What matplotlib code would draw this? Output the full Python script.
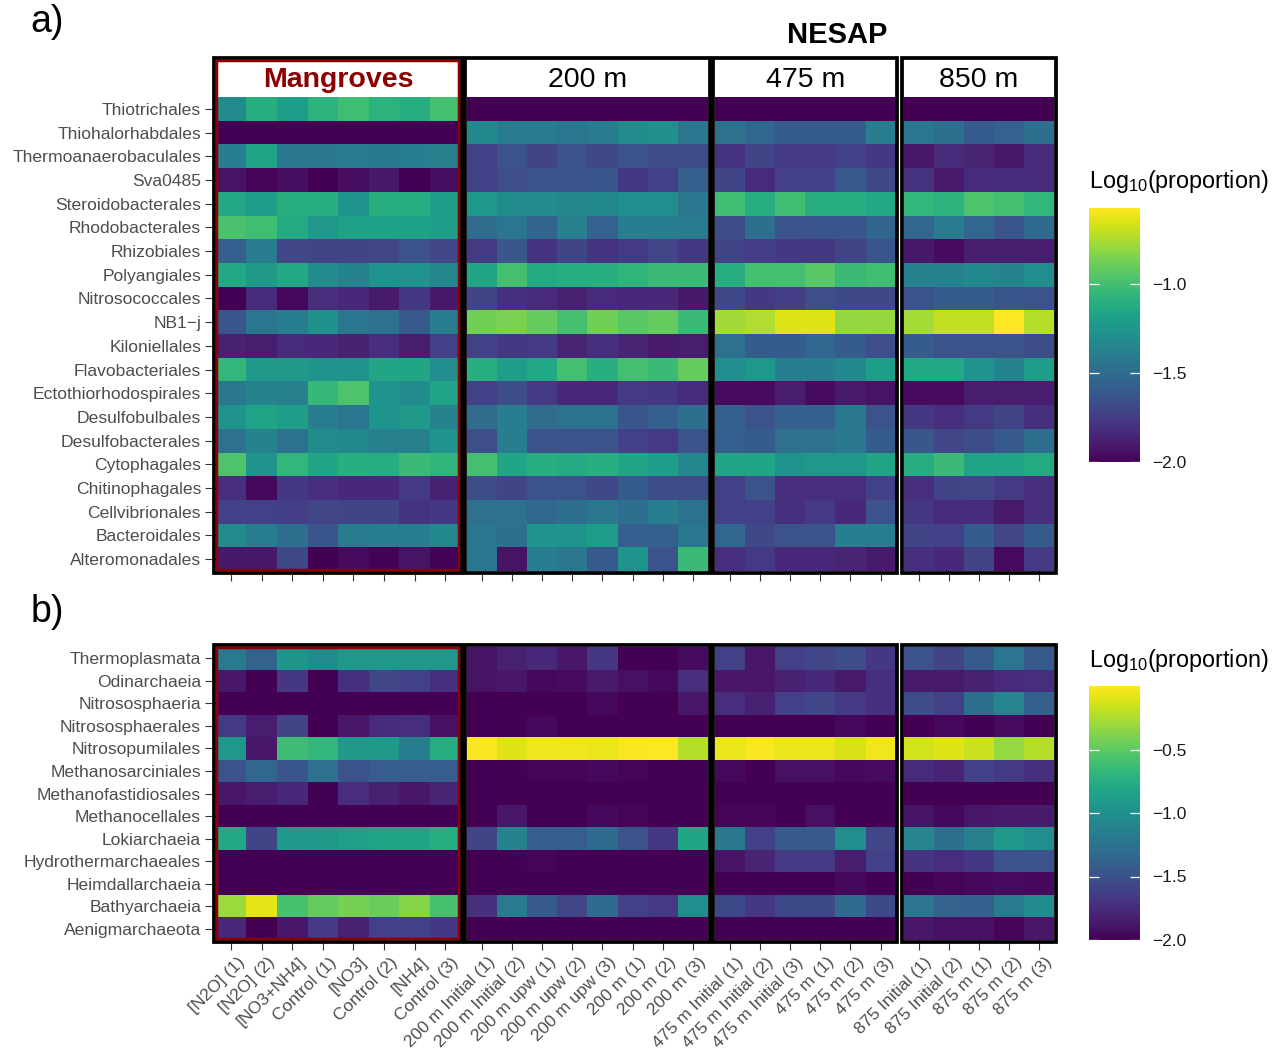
import numpy as np
import matplotlib
matplotlib.use("Agg")
import matplotlib.pyplot as plt
from matplotlib.colors import Normalize
from matplotlib.patches import Rectangle
from matplotlib.cm import ScalarMappable
import matplotlib.transforms as mtransforms

plt.rcParams['font.family'] = ['Liberation Sans', 'DejaVu Sans']
plt.rcParams['mathtext.fontset'] = 'custom'
plt.rcParams['mathtext.rm'] = 'Liberation Sans'

# ---------------------------------------------------------------- data
STRIP_TITLES = ['Mangroves', '200 m', '475 m', '850 m']

MANGROVE_COLS = ['[N2O] (1)', '[N2O] (2)', '[NO3+NH4]', 'Control (1)', '[NO3]',
                 'Control (2)', '[NH4]', 'Control (3)']
M200_COLS = ['200 m Initial (1)', '200 m Initial (2)', '200 m upw (1)', '200 m upw (2)',
             '200 m upw (3)', '200 m (1)', '200 m (2)', '200 m (3)']
M475_COLS = ['475 m Initial (1)', '475 m Initial (2)', '475 m Initial (3)',
             '475 m (1)', '475 m (2)', '475 m (3)']
M850_COLS = ['875 Initial (1)', '875 Initial (2)', '875 m (1)', '875 m (2)', '875 m (3)']

BACTERIA_ROWS = ['Thiotrichales', 'Thiohalorhabdales', 'Thermoanaerobaculales', 'Sva0485',
                 'Steroidobacterales', 'Rhodobacterales', 'Rhizobiales', 'Polyangiales',
                 'Nitrosococcales', 'NB1\u2212j', 'Kiloniellales', 'Flavobacteriales',
                 'Ectothiorhodospirales', 'Desulfobulbales', 'Desulfobacterales',
                 'Cytophagales', 'Chitinophagales', 'Cellvibrionales', 'Bacteroidales',
                 'Alteromonadales']

ARCHAEA_ROWS = ['Thermoplasmata', 'Odinarchaeia', 'Nitrososphaeria', 'Nitrososphaerales',
                'Nitrosopumilales', 'Methanosarciniales', 'Methanofastidiosales',
                'Methanocellales', 'Lokiarchaeia', 'Hydrothermarchaeales',
                'Heimdallarchaeia', 'Bathyarchaeia', 'Aenigmarchaeota']

# log10(proportion), bacteria (panel a)
bact_mangroves = [
    [-1.31, -1.10, -1.21, -1.08, -1.01, -1.08, -1.11, -1.00],
    [-2.00, -2.00, -2.00, -2.00, -2.00, -2.00, -2.00, -2.00],
    [-1.40, -1.17, -1.43, -1.43, -1.41, -1.42, -1.40, -1.38],
    [-1.93, -1.98, -1.95, -2.00, -1.95, -1.91, -2.00, -1.95],
    [-1.14, -1.21, -1.10, -1.10, -1.26, -1.10, -1.11, -1.21],
    [-0.98, -1.01, -1.13, -1.24, -1.18, -1.18, -1.18, -1.21],
    [-1.57, -1.41, -1.70, -1.71, -1.71, -1.70, -1.64, -1.70],
    [-1.14, -1.23, -1.14, -1.31, -1.36, -1.26, -1.26, -1.34],
    [-2.00, -1.83, -1.97, -1.81, -1.84, -1.90, -1.77, -1.91],
    [-1.63, -1.44, -1.40, -1.28, -1.44, -1.47, -1.60, -1.40],
    [-1.87, -1.89, -1.83, -1.84, -1.87, -1.81, -1.89, -1.73],
    [-1.06, -1.23, -1.23, -1.26, -1.26, -1.16, -1.16, -1.30],
    [-1.43, -1.36, -1.38, -1.04, -0.97, -1.26, -1.31, -1.17],
    [-1.26, -1.17, -1.21, -1.40, -1.44, -1.26, -1.23, -1.36],
    [-1.47, -1.36, -1.46, -1.31, -1.33, -1.38, -1.38, -1.26],
    [-0.97, -1.26, -1.06, -1.16, -1.10, -1.11, -1.03, -1.07],
    [-1.81, -1.97, -1.77, -1.81, -1.84, -1.84, -1.76, -1.87],
    [-1.73, -1.73, -1.74, -1.70, -1.71, -1.71, -1.79, -1.77],
    [-1.31, -1.40, -1.49, -1.63, -1.41, -1.40, -1.40, -1.33],
    [-1.91, -1.91, -1.69, -2.00, -1.96, -1.99, -1.93, -1.99],
]
bact_200 = [
    [-2.00, -2.00, -2.00, -2.00, -2.00, -2.00, -2.00, -2.00],
    [-1.33, -1.41, -1.41, -1.44, -1.41, -1.31, -1.29, -1.44],
    [-1.73, -1.64, -1.71, -1.64, -1.69, -1.64, -1.67, -1.67],
    [-1.73, -1.66, -1.64, -1.64, -1.63, -1.77, -1.73, -1.57],
    [-1.24, -1.31, -1.31, -1.34, -1.33, -1.30, -1.30, -1.44],
    [-1.50, -1.44, -1.54, -1.38, -1.56, -1.40, -1.40, -1.41],
    [-1.76, -1.61, -1.79, -1.71, -1.79, -1.76, -1.70, -1.77],
    [-1.16, -1.00, -1.13, -1.11, -1.10, -1.07, -1.03, -1.03],
    [-1.71, -1.80, -1.83, -1.87, -1.83, -1.84, -1.84, -1.91],
    [-0.88, -0.86, -0.91, -1.00, -0.88, -0.94, -0.91, -1.03],
    [-1.73, -1.77, -1.76, -1.86, -1.80, -1.86, -1.90, -1.89],
    [-1.10, -1.21, -1.14, -1.00, -1.10, -1.00, -1.03, -0.91],
    [-1.73, -1.67, -1.76, -1.84, -1.84, -1.76, -1.77, -1.83],
    [-1.50, -1.40, -1.50, -1.46, -1.46, -1.63, -1.57, -1.49],
    [-1.66, -1.40, -1.64, -1.64, -1.64, -1.73, -1.76, -1.64],
    [-1.00, -1.16, -1.10, -1.13, -1.10, -1.16, -1.21, -1.34],
    [-1.67, -1.71, -1.64, -1.64, -1.69, -1.59, -1.67, -1.67],
    [-1.47, -1.47, -1.53, -1.49, -1.43, -1.49, -1.40, -1.46],
    [-1.44, -1.49, -1.26, -1.26, -1.21, -1.57, -1.57, -1.44],
    [-1.44, -1.93, -1.40, -1.43, -1.60, -1.26, -1.64, -1.03],
]
bact_475 = [
    [-2.00, -2.00, -2.00, -2.00, -2.00, -2.00],
    [-1.47, -1.53, -1.59, -1.59, -1.59, -1.40],
    [-1.79, -1.71, -1.76, -1.76, -1.73, -1.77],
    [-1.71, -1.83, -1.73, -1.73, -1.60, -1.69],
    [-1.01, -1.11, -1.01, -1.10, -1.10, -1.14],
    [-1.67, -1.49, -1.64, -1.63, -1.63, -1.54],
    [-1.71, -1.74, -1.77, -1.77, -1.71, -1.63],
    [-1.11, -1.00, -1.00, -0.94, -1.03, -1.01],
    [-1.69, -1.77, -1.74, -1.66, -1.69, -1.69],
    [-0.77, -0.74, -0.64, -0.64, -0.80, -0.80],
    [-1.47, -1.59, -1.59, -1.53, -1.59, -1.66],
    [-1.30, -1.24, -1.40, -1.40, -1.33, -1.21],
    [-1.96, -1.96, -1.89, -1.96, -1.90, -1.93],
    [-1.57, -1.64, -1.57, -1.57, -1.43, -1.64],
    [-1.57, -1.59, -1.47, -1.47, -1.43, -1.59],
    [-1.16, -1.16, -1.26, -1.24, -1.24, -1.16],
    [-1.73, -1.64, -1.81, -1.81, -1.81, -1.73],
    [-1.73, -1.73, -1.80, -1.76, -1.84, -1.64],
    [-1.53, -1.69, -1.64, -1.64, -1.40, -1.40],
    [-1.81, -1.76, -1.84, -1.84, -1.86, -1.90],
]
bact_850 = [
    [-2.00, -2.00, -2.00, -2.00, -2.00],
    [-1.44, -1.49, -1.59, -1.56, -1.49],
    [-1.91, -1.83, -1.86, -1.91, -1.83],
    [-1.79, -1.90, -1.83, -1.83, -1.83],
    [-1.06, -1.08, -0.97, -1.00, -1.06],
    [-1.53, -1.41, -1.53, -1.63, -1.51],
    [-1.91, -1.96, -1.89, -1.89, -1.89],
    [-1.37, -1.37, -1.33, -1.36, -1.30],
    [-1.64, -1.59, -1.59, -1.63, -1.64],
    [-0.76, -0.70, -0.70, -0.57, -0.73],
    [-1.59, -1.64, -1.64, -1.64, -1.67],
    [-1.14, -1.14, -1.26, -1.36, -1.21],
    [-1.96, -1.96, -1.89, -1.89, -1.89],
    [-1.77, -1.81, -1.76, -1.71, -1.80],
    [-1.61, -1.70, -1.67, -1.60, -1.49],
    [-1.11, -1.03, -1.17, -1.17, -1.13],
    [-1.81, -1.71, -1.70, -1.76, -1.81],
    [-1.77, -1.83, -1.83, -1.90, -1.81],
    [-1.71, -1.73, -1.59, -1.70, -1.59],
    [-1.81, -1.84, -1.71, -1.96, -1.76],
]

# log10(proportion), archaea (panel b)
arch_mangroves = [
    [-1.18, -1.38, -0.96, -1.04, -0.94, -0.94, -0.94, -0.94],
    [-1.88, -2.00, -1.68, -2.00, -1.72, -1.58, -1.62, -1.72],
    [-2.00, -2.00, -2.00, -2.00, -2.00, -2.00, -2.00, -2.00],
    [-1.66, -1.84, -1.60, -2.00, -1.88, -1.76, -1.74, -1.92],
    [-0.94, -1.88, -0.62, -0.68, -0.92, -0.92, -1.16, -0.76],
    [-1.50, -1.34, -1.48, -1.26, -1.50, -1.42, -1.42, -1.42],
    [-1.88, -1.84, -1.78, -2.00, -1.74, -1.82, -1.88, -1.80],
    [-2.00, -2.00, -2.00, -2.00, -2.00, -2.00, -2.00, -2.00],
    [-0.80, -1.60, -0.94, -0.92, -0.88, -0.84, -0.84, -0.76],
    [-2.00, -2.00, -2.00, -2.00, -2.00, -2.00, -2.00, -2.00],
    [-2.00, -2.00, -2.00, -2.00, -2.00, -2.00, -2.00, -2.00],
    [-0.30, -0.08, -0.58, -0.48, -0.42, -0.46, -0.36, -0.58],
    [-1.78, -2.00, -1.88, -1.66, -1.82, -1.62, -1.62, -1.68],
]
arch_200 = [
    [-1.90, -1.82, -1.78, -1.88, -1.68, -2.00, -2.00, -1.94],
    [-1.90, -1.88, -1.96, -1.94, -1.86, -1.92, -1.96, -1.74],
    [-2.00, -2.00, -2.00, -2.00, -1.96, -2.00, -2.00, -1.88],
    [-2.00, -2.00, -1.96, -2.00, -2.00, -2.00, -2.00, -2.00],
    [-0.02, -0.10, -0.04, -0.04, -0.06, -0.02, -0.005, -0.22],
    [-2.00, -2.00, -1.98, -1.98, -1.96, -1.98, -2.00, -2.00],
    [-2.00, -2.00, -2.00, -2.00, -2.00, -2.00, -2.00, -2.00],
    [-2.00, -1.88, -2.00, -2.00, -1.96, -1.98, -2.00, -2.00],
    [-1.60, -1.12, -1.42, -1.42, -1.32, -1.50, -1.68, -0.82],
    [-2.00, -2.00, -1.98, -2.00, -2.00, -2.00, -2.00, -2.00],
    [-2.00, -2.00, -2.00, -2.00, -2.00, -2.00, -2.00, -2.00],
    [-1.72, -1.18, -1.44, -1.58, -1.32, -1.62, -1.66, -1.02],
    [-2.00, -2.00, -2.00, -2.00, -2.00, -2.00, -2.00, -2.00],
]
arch_475 = [
    [-1.62, -1.88, -1.62, -1.58, -1.54, -1.68],
    [-1.88, -1.88, -1.82, -1.78, -1.86, -1.72],
    [-1.74, -1.82, -1.62, -1.58, -1.66, -1.72],
    [-2.00, -2.00, -2.00, -2.00, -1.96, -2.00],
    [-0.06, -0.02, -0.06, -0.06, -0.12, -0.04],
    [-1.96, -2.00, -1.92, -1.92, -1.96, -1.94],
    [-2.00, -2.00, -2.00, -2.00, -2.00, -2.00],
    [-1.98, -1.98, -2.00, -1.92, -2.00, -2.00],
    [-1.20, -1.62, -1.44, -1.44, -1.02, -1.58],
    [-1.90, -1.80, -1.66, -1.66, -1.84, -1.62],
    [-2.00, -2.00, -2.00, -2.00, -1.96, -2.00],
    [-1.56, -1.68, -1.56, -1.56, -1.32, -1.56],
    [-2.00, -2.00, -2.00, -2.00, -2.00, -2.00],
]
arch_850 = [
    [-1.50, -1.60, -1.44, -1.22, -1.44],
    [-1.86, -1.86, -1.82, -1.76, -1.74],
    [-1.54, -1.62, -1.28, -1.10, -1.40],
    [-2.00, -1.96, -2.00, -1.94, -2.00],
    [-0.14, -0.10, -0.16, -0.32, -0.22],
    [-1.76, -1.80, -1.62, -1.66, -1.72],
    [-2.00, -2.00, -2.00, -2.00, -2.00],
    [-1.90, -1.96, -1.88, -1.86, -1.86],
    [-1.10, -1.28, -1.14, -0.94, -1.02],
    [-1.70, -1.74, -1.68, -1.50, -1.50],
    [-2.00, -1.98, -1.96, -1.94, -1.96],
    [-1.22, -1.38, -1.40, -1.18, -1.04],
    [-1.88, -1.92, -1.92, -1.98, -1.88],
]

BACT_TICKS = [-2.0, -1.5, -1.0]
ARCH_TICKS = [-2.0, -1.5, -1.0, -0.5]

# ---------------------------------------------------------------- layout (pixels)
W, H, DPI = 1282, 1053, 100
FACET_X0 = [215.75, 467.0, 715.0, 903.5]
COL_W = [30.6, 30.1, 30.1, 30.1]
COLUMN_GROUPS = [MANGROVE_COLS, M200_COLS, M475_COLS, M850_COLS]
FRAME_PX = 3.75
MANGROVE_RED = '#8B0000'
TICK_GREY = '#333333'
LABEL_GREY = '#4D4D4D'
PT = 72.0 / DPI

fig = plt.figure(figsize=(W / DPI, H / DPI), dpi=DPI)
fig.patch.set_facecolor('white')


def px_axes(x0, y0, x1, y1, **kw):
    return fig.add_axes([x0 / W, 1 - y1 / H, (x1 - x0) / W, (y1 - y0) / H], **kw)


overlay = px_axes(0, 0, W, H, zorder=10)
overlay.set_xlim(0, W)
overlay.set_ylim(H, 0)
overlay.axis('off')
overlay.patch.set_alpha(0)


def frame(x0, x1, y0, y1, lw_px, pad_px, color):
    off = pad_px + lw_px / 2
    overlay.add_patch(Rectangle((x0 - off, y0 - off), (x1 - x0) + 2 * off,
                                (y1 - y0) + 2 * off, fill=False, ec=color,
                                lw=lw_px * PT, joinstyle='miter'))


def draw_panel(blocks, rows, top, bottom, norm, strip_top=None, xlabels=False):
    for i, (vals, cols) in enumerate(zip(blocks, COLUMN_GROUPS)):
        x0 = FACET_X0[i]
        x1 = x0 + COL_W[i] * len(cols)
        ax = px_axes(x0, top, x1, bottom, zorder=2)
        ax.pcolormesh(np.asarray(vals), cmap='viridis', norm=norm,
                      edgecolors='none', antialiased=False)
        ax.set_xlim(0, len(cols))
        ax.set_ylim(len(rows), 0)
        for sp in ax.spines.values():
            sp.set_visible(False)
        ax.set_xticks(np.arange(len(cols)) + 0.5)
        ax.tick_params(axis='x', direction='out', length=7.5, width=0.8,
                       color=TICK_GREY, pad=3.0, labelsize=12.6,
                       labelcolor=LABEL_GREY)
        if xlabels:
            ax.set_xticklabels(cols, rotation=45, ha='right', va='top',
                               rotation_mode='anchor')
            shift = mtransforms.ScaledTranslation(6 / DPI, 0, fig.dpi_scale_trans)
            for lab in ax.get_xticklabels():
                lab.set_transform(lab.get_transform() + shift)
        else:
            ax.set_xticklabels([])
        if i == 0:
            ax.set_yticks(np.arange(len(rows)) + 0.5)
            ax.set_yticklabels(rows)
            ax.tick_params(axis='y', direction='out', length=7.7, width=0.8,
                           color=TICK_GREY, pad=2.9, labelsize=12.6,
                           labelcolor=LABEL_GREY)
        else:
            ax.set_yticks([])

        y_top = top
        if strip_top is not None:
            sax = px_axes(x0, strip_top, x1, top, zorder=2)
            sax.set_xticks([])
            sax.set_yticks([])
            for sp in sax.spines.values():
                sp.set_visible(False)
            sax.set_facecolor('white')
            if i == 0:
                sax.text(0.5, 0.46, STRIP_TITLES[i], transform=sax.transAxes,
                         ha='center', va='center', fontsize=20.5,
                         fontweight='bold', color=MANGROVE_RED)
            else:
                sax.text(0.5, 0.46, STRIP_TITLES[i], transform=sax.transAxes,
                         ha='center', va='center', fontsize=20.5, color='black')
            y_top = strip_top

        frame(x0, x1, y_top, bottom, FRAME_PX, 0, 'black')
        if i == 0:
            frame(x0, x1, y_top, bottom, 2.5, -2.5, MANGROVE_RED)


def draw_colorbar(y0, y1, norm, ticks, title_y):
    cax = px_axes(1089, y0, 1140, y1, zorder=2)
    cb = fig.colorbar(ScalarMappable(norm=norm, cmap='viridis'), cax=cax)
    cb.outline.set_visible(False)
    cb.set_ticks(ticks)
    cax.tick_params(axis='y', direction='in', left=True, right=True,
                    length=7.2, width=0.9, color='white', pad=8.6,
                    labelsize=12.5, labelcolor='#1A1A1A')
    fig.text(1089 / W, 1 - title_y / H, 'Log$_{\\mathregular{10}}$(proportion)',
             ha='left', va='center', fontsize=16.8, color='black')


bact_norm = Normalize(vmin=-2.0, vmax=float(np.max(bact_850)))
arch_norm = Normalize(vmin=-2.0, vmax=0.0)

draw_panel([bact_mangroves, bact_200, bact_475, bact_850], BACTERIA_ROWS,
           97.0, 571.0, bact_norm, strip_top=59.5)
draw_panel([arch_mangroves, arch_200, arch_475, arch_850], ARCHAEA_ROWS,
           647.0, 940.0, arch_norm, xlabels=True)

draw_colorbar(207.7, 462.5, bact_norm, BACT_TICKS, 181.5)
draw_colorbar(686.0, 940.0, arch_norm, ARCH_TICKS, 660.0)

fig.text(837 / W, 1 - 35 / H, 'NESAP', ha='center', va='center',
         fontsize=21, fontweight='bold')
fig.text(47 / W, 1 - 22 / H, 'a)', ha='center', va='center', fontsize=27)
fig.text(47 / W, 1 - 612 / H, 'b)', ha='center', va='center', fontsize=27)

fig.savefig('out.png', dpi=DPI)
